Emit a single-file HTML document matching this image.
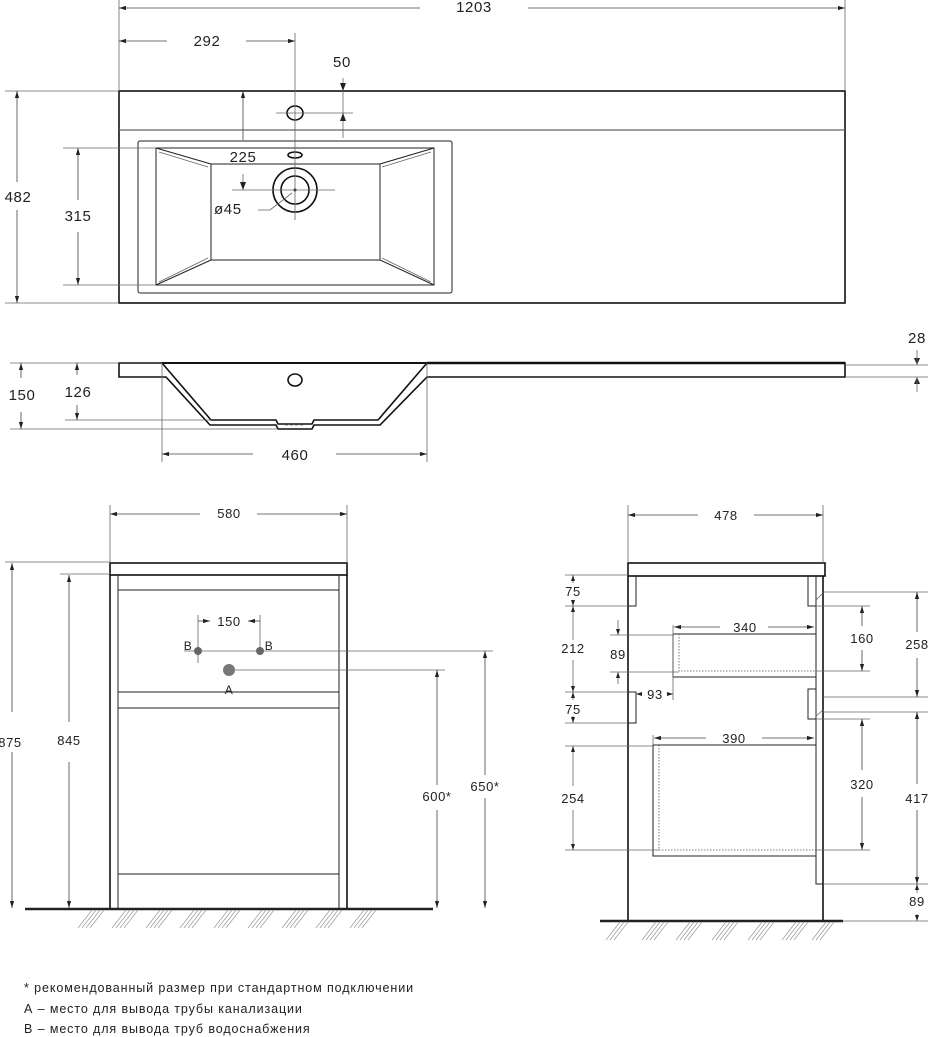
<!DOCTYPE html>
<html><head><meta charset="utf-8"><style>
html,body{margin:0;padding:0;background:#fff}
svg{display:block}
text{font-family:"Liberation Sans","DejaVu Sans",sans-serif;fill:#222;letter-spacing:0.6px}
.o{fill:none;stroke:#111;stroke-width:1.6}
.t{fill:none;stroke:#222;stroke-width:1}
.d{fill:none;stroke:#666;stroke-width:0.8}
.a{fill:none;stroke:#444;stroke-width:0.8;marker-start:url(#ar);marker-end:url(#ar)}
.dt{fill:none;stroke:#555;stroke-width:0.8;stroke-dasharray:1.5 1.5}
.h{stroke:#999;stroke-width:0.7}
.big{font-size:15px}
</style></head><body>
<svg width="928" height="1037" viewBox="0 0 928 1037" xmlns="http://www.w3.org/2000/svg">
<defs>
<marker id="ar" viewBox="0 0 10 10" refX="10" refY="5" markerWidth="7" markerHeight="7" orient="auto-start-reverse" markerUnits="userSpaceOnUse"><path d="M0,2 L10,5 L0,8 z" fill="#222"/></marker>
</defs>

<!-- ===== TOP PLAN ===== -->
<rect class="o" x="119" y="91" width="726" height="212"/>
<line x1="119" y1="130" x2="845" y2="130" stroke="#666" stroke-width="1.2"/>
<rect class="t" x="138" y="141" width="314" height="152" rx="2"/>
<rect class="t" x="156" y="148" width="278" height="137"/>
<rect class="t" x="211" y="164" width="169" height="96"/>
<path class="t" d="M156,148 L211,164 M434,148 L380,164 M156,285 L211,260 M434,285 L380,260"/>
<path class="d" d="M159,152 L208,167 M431,152 L382,167 M159,282 L208,258 M431,282 L382,258"/>
<ellipse cx="295" cy="113" rx="8" ry="7" class="o"/>
<ellipse cx="295" cy="155" rx="7" ry="3" class="o"/>
<circle cx="295" cy="190" r="22" class="o" stroke-width="2"/>
<circle cx="295" cy="190" r="14" class="o"/>
<circle cx="295" cy="190" r="1.5" fill="#111"/>
<line class="d" x1="295" y1="33" x2="295" y2="220"/>
<line class="d" x1="276" y1="113" x2="353" y2="113"/>
<line class="d" x1="232" y1="190" x2="335" y2="190"/>
<path class="d" d="M258,210 L270,210 L292,193"/>
<!-- 1203 -->
<line class="d" x1="119" y1="0" x2="119" y2="91"/>
<line class="d" x1="845" y1="0" x2="845" y2="91"/>
<line class="a" x1="119" y1="8" x2="420" y2="8" style="marker-end:none"/>
<line class="a" x1="528" y1="8" x2="845" y2="8" style="marker-start:none"/>
<text x="474" y="12" class="big" text-anchor="middle">1203</text>
<!-- 292 -->
<line class="a" x1="119" y1="41" x2="167" y2="41" style="marker-end:none"/>
<line class="a" x1="246" y1="41" x2="295" y2="41" style="marker-start:none"/>
<text x="207" y="46" class="big" text-anchor="middle">292</text>
<!-- 50 -->
<text x="342" y="67" class="big" text-anchor="middle">50</text>
<line class="d" x1="343" y1="78" x2="343" y2="138"/>
<path d="M340,83 L343,91 L346,83z M340,121 L343,113 L346,121z" fill="#222"/>
<!-- 225 -->
<line class="a" x1="243" y1="91" x2="243" y2="140" style="marker-end:none"/>
<text x="243" y="162" class="big" text-anchor="middle">225</text>
<line class="d" x1="243" y1="174" x2="243" y2="190"/>
<path d="M240,182 L243,190 L246,182z" fill="#222"/>
<text x="214" y="214" class="big">ø45</text>
<!-- 482 -->
<line class="d" x1="5" y1="91" x2="119" y2="91"/>
<line class="d" x1="5" y1="303" x2="119" y2="303"/>
<line class="a" x1="17" y1="91" x2="17" y2="182" style="marker-end:none"/>
<line class="a" x1="17" y1="210" x2="17" y2="303" style="marker-start:none"/>
<text x="18" y="202" class="big" text-anchor="middle">482</text>
<!-- 315 -->
<line class="d" x1="63" y1="148" x2="156" y2="148"/>
<line class="d" x1="63" y1="285" x2="156" y2="285"/>
<line class="a" x1="78" y1="148" x2="78" y2="200" style="marker-end:none"/>
<line class="a" x1="78" y1="232" x2="78" y2="285" style="marker-start:none"/>
<text x="78" y="221" class="big" text-anchor="middle">315</text>

<!-- ===== SECTION ===== -->
<path class="o" d="M162,363 L119,363 L119,377 L166,377 L210,425 L276,425 L278,429 L312,429 L314,425 L380,425 L427,377 L845,377 L845,363 L427,363"/>
<path class="o" d="M162,363 L211,420 L276,420 L278,424 L312,424 L314,420 L378,420 L427,363"/>
<line x1="162" y1="363" x2="427" y2="363" stroke="#111" stroke-width="2"/>
<line x1="427" y1="363" x2="845" y2="363" stroke="#111" stroke-width="2.5"/>
<line class="d" x1="285" y1="425" x2="305" y2="425" stroke-dasharray="3 2"/>
<ellipse cx="295" cy="380" rx="7" ry="6" class="o"/>
<!-- 150 / 126 -->
<line class="d" x1="10" y1="363" x2="119" y2="363"/>
<line class="d" x1="10" y1="429" x2="278" y2="429"/>
<line class="d" x1="65" y1="420" x2="211" y2="420"/>
<line class="a" x1="21" y1="363" x2="21" y2="378" style="marker-end:none"/>
<line class="a" x1="21" y1="412" x2="21" y2="429" style="marker-start:none"/>
<text x="22" y="400" class="big" text-anchor="middle">150</text>
<line class="a" x1="77" y1="363" x2="77" y2="375" style="marker-end:none"/>
<line class="a" x1="77" y1="405" x2="77" y2="420" style="marker-start:none"/>
<text x="78" y="397" class="big" text-anchor="middle">126</text>
<!-- 460 -->
<line class="d" x1="162" y1="363" x2="162" y2="462"/>
<line class="d" x1="427" y1="363" x2="427" y2="462"/>
<line class="a" x1="162" y1="454" x2="253" y2="454" style="marker-end:none"/>
<line class="a" x1="336" y1="454" x2="427" y2="454" style="marker-start:none"/>
<text x="295" y="460" class="big" text-anchor="middle">460</text>
<!-- 28 -->
<line class="d" x1="845" y1="365" x2="928" y2="365"/>
<line class="d" x1="845" y1="377" x2="928" y2="377"/>
<text x="917" y="343" class="big" text-anchor="middle">28</text>
<path d="M914,358 L917,365 L920,358z M914,384 L917,377 L920,384z" fill="#222"/>
<line class="d" x1="917" y1="350" x2="917" y2="365"/><line class="d" x1="917" y1="377" x2="917" y2="392"/>

<!-- ===== FRONT CABINET ===== -->
<rect class="o" x="110" y="563" width="237" height="12"/>
<path class="o" d="M110,575 L110,909 M347,575 L347,909"/>
<path class="t" d="M118,575 L118,909 M339,575 L339,909"/>
<path class="t" d="M118,590 L339,590 M118,692 L339,692 M118,708 L339,708 M118,874 L339,874"/>
<circle cx="198" cy="651" r="4" fill="#666"/>
<circle cx="260" cy="651" r="4" fill="#666"/>
<circle cx="229" cy="670" r="6" fill="#777"/>
<text x="188" y="650" font-size="12" text-anchor="middle">B</text>
<text x="269" y="650" font-size="12" text-anchor="middle">B</text>
<text x="229" y="694" font-size="12" text-anchor="middle">A</text>
<line class="d" x1="198" y1="615" x2="198" y2="663"/>
<line class="d" x1="260" y1="615" x2="260" y2="655"/>
<line class="d" x1="184" y1="651" x2="493" y2="651"/>
<line class="d" x1="235" y1="670" x2="445" y2="670"/>
<line class="a" x1="198" y1="621" x2="210" y2="621" style="marker-start:none"/>
<line class="a" x1="248" y1="621" x2="260" y2="621" style="marker-end:none"/>
<text x="229" y="626" font-size="13" text-anchor="middle">150</text>
<!-- 580 -->
<line class="d" x1="110" y1="505" x2="110" y2="563"/>
<line class="d" x1="347" y1="505" x2="347" y2="563"/>
<line class="a" x1="110" y1="514" x2="200" y2="514" style="marker-end:none"/>
<line class="a" x1="257" y1="514" x2="347" y2="514" style="marker-start:none"/>
<text x="229" y="518" font-size="13" text-anchor="middle">580</text>
<!-- 875 / 845 -->
<line class="d" x1="5" y1="562" x2="110" y2="562"/>
<line class="d" x1="60" y1="574" x2="110" y2="574"/>
<line class="a" x1="12" y1="563" x2="12" y2="712" style="marker-end:none"/>
<line class="a" x1="12" y1="752" x2="12" y2="908" style="marker-start:none"/>
<text x="10" y="747" font-size="13" text-anchor="middle">875</text>
<line class="a" x1="69" y1="575" x2="69" y2="722" style="marker-end:none"/>
<line class="a" x1="69" y1="762" x2="69" y2="908" style="marker-start:none"/>
<text x="69" y="745" font-size="13" text-anchor="middle">845</text>
<!-- 600 / 650 -->
<line class="a" x1="437" y1="670" x2="437" y2="785" style="marker-end:none"/>
<line class="a" x1="437" y1="810" x2="437" y2="908" style="marker-start:none"/>
<text x="437" y="801" font-size="13" text-anchor="middle">600*</text>
<line class="a" x1="485" y1="651" x2="485" y2="775" style="marker-end:none"/>
<line class="a" x1="485" y1="798" x2="485" y2="908" style="marker-start:none"/>
<text x="485" y="791" font-size="13" text-anchor="middle">650*</text>
<line x1="25" y1="909" x2="433" y2="909" stroke="#222" stroke-width="2.5"/>
<g class="h">
<path d="M78,928 L92,910 M82,928 L96,910 M86,928 L100,910 M90,928 L104,910 M112,928 L126,910 M116,928 L130,910 M120,928 L134,910 M124,928 L138,910 M146,928 L160,910 M150,928 L164,910 M154,928 L168,910 M158,928 L172,910 M180,928 L194,910 M184,928 L198,910 M188,928 L202,910 M192,928 L206,910 M214,928 L228,910 M218,928 L232,910 M222,928 L236,910 M226,928 L240,910 M248,928 L262,910 M252,928 L266,910 M256,928 L270,910 M260,928 L274,910 M282,928 L296,910 M286,928 L300,910 M290,928 L304,910 M294,928 L308,910 M316,928 L330,910 M320,928 L334,910 M324,928 L338,910 M328,928 L342,910 M350,928 L364,910 M354,928 L368,910 M358,928 L372,910 M362,928 L376,910"/>
</g>

<!-- ===== SIDE CABINET ===== -->
<rect class="o" x="628" y="563" width="197" height="13"/>
<path class="o" d="M628,576 L628,921 M823,576 L823,921"/>
<path class="t" d="M628,606 L636,606 L636,576 M628,692 L636,692 L636,723 L628,723"/>
<path class="t" d="M816,576 L816,606 L808,606 L808,576"/>
<path class="t" d="M816,689 L808,689 L808,719 L816,719 M816,576 L816,884 L823,884"/>
<path class="t" d="M673,634 L816,634 M673,634 L673,677 L816,677"/>
<path class="dt" d="M679,634 L679,671 L816,671"/>
<path class="t" d="M653,745 L816,745 M653,745 L653,856 L816,856"/>
<path class="dt" d="M659,745 L659,850 L816,850"/>
<!-- 478 -->
<line class="d" x1="628" y1="505" x2="628" y2="563"/>
<line class="d" x1="823" y1="505" x2="823" y2="563"/>
<line class="a" x1="628" y1="515" x2="698" y2="515" style="marker-end:none"/>
<line class="a" x1="754" y1="515" x2="823" y2="515" style="marker-start:none"/>
<text x="726" y="520" font-size="13" text-anchor="middle">478</text>
<!-- left dims -->
<line class="d" x1="565" y1="575" x2="628" y2="575"/>
<line class="d" x1="565" y1="606" x2="628" y2="606"/>
<line class="d" x1="565" y1="692" x2="628" y2="692"/>
<line class="d" x1="565" y1="723" x2="628" y2="723"/>
<line class="d" x1="565" y1="746" x2="653" y2="746"/>
<line class="d" x1="565" y1="850" x2="659" y2="850"/>
<line class="d" x1="610" y1="635" x2="673" y2="635"/>
<line class="d" x1="610" y1="672" x2="679" y2="672"/>
<path class="d" d="M573,575 L573,583 M573,600 L573,640 M573,660 L573,700 M573,716 L573,723 M573,746 L573,786 M573,810 L573,850"/>
<path d="M571,581 L573,575 L575,581z M571,600 L573,606 L575,600z M571,612 L573,606 L575,612z M571,686 L573,692 L575,686z M571,698 L573,692 L575,698z M571,717 L573,723 L575,717z M571,752 L573,746 L575,752z M571,844 L573,850 L575,844z" fill="#222"/>
<text x="573" y="596" font-size="13" text-anchor="middle">75</text>
<text x="573" y="653" font-size="13" text-anchor="middle">212</text>
<text x="573" y="714" font-size="13" text-anchor="middle">75</text>
<text x="573" y="803" font-size="13" text-anchor="middle">254</text>
<path class="d" d="M618,620 L618,635 M618,672 L618,684"/>
<path d="M616,629 L618,635 L620,629z M616,678 L618,672 L620,678z" fill="#222"/>
<text x="618" y="659" font-size="13" text-anchor="middle">89</text>
<line class="d" x1="673" y1="625" x2="673" y2="700"/>
<line class="d" x1="653" y1="735" x2="653" y2="745"/>
<path class="d" d="M636,694 L642,694 M667,694 L673,694"/>
<path d="M642,692 L636,694 L642,696z M667,692 L673,694 L667,696z" fill="#222"/>
<text x="655" y="699" font-size="13" text-anchor="middle">93</text>
<line class="a" x1="674" y1="627" x2="720" y2="627" style="marker-end:none"/>
<line class="a" x1="768" y1="627" x2="814" y2="627" style="marker-start:none"/>
<text x="745" y="632" font-size="13" text-anchor="middle">340</text>
<line class="a" x1="654" y1="738" x2="706" y2="738" style="marker-end:none"/>
<line class="a" x1="762" y1="738" x2="814" y2="738" style="marker-start:none"/>
<text x="734" y="743" font-size="13" text-anchor="middle">390</text>
<!-- right dims -->
<path class="d" d="M823,592 L928,592 M816,606 L870,606 M816,671 L870,671 M823,697 L928,697 M823,712 L928,712 M816,719 L870,719 M816,850 L870,850 M823,884 L928,884"/>
<path class="d" d="M816,600 L823,593 M816,716 L823,710"/>
<line class="a" x1="862" y1="606" x2="862" y2="626" style="marker-end:none"/>
<line class="a" x1="862" y1="650" x2="862" y2="671" style="marker-start:none"/>
<text x="862" y="643" font-size="13" text-anchor="middle">160</text>
<line class="a" x1="862" y1="719" x2="862" y2="770" style="marker-end:none"/>
<line class="a" x1="862" y1="797" x2="862" y2="850" style="marker-start:none"/>
<text x="862" y="789" font-size="13" text-anchor="middle">320</text>
<line class="a" x1="917" y1="592" x2="917" y2="632" style="marker-end:none"/>
<line class="a" x1="917" y1="658" x2="917" y2="697" style="marker-start:none"/>
<text x="917" y="649" font-size="13" text-anchor="middle">258</text>
<line class="a" x1="917" y1="712" x2="917" y2="784" style="marker-end:none"/>
<line class="a" x1="917" y1="810" x2="917" y2="884" style="marker-start:none"/>
<text x="917" y="803" font-size="13" text-anchor="middle">417</text>
<path class="d" d="M917,884 L917,893 M917,914 L917,921"/>
<path d="M915,890 L917,884 L919,890z M915,915 L917,921 L919,915z" fill="#222"/>
<text x="917" y="906" font-size="13" text-anchor="middle">89</text>
<line class="d" x1="823" y1="921" x2="928" y2="921"/>
<line x1="600" y1="921" x2="843" y2="921" stroke="#222" stroke-width="2.5"/>
<g class="h">
<path d="M606,940 L620,922 M610,940 L624,922 M614,940 L628,922 M642,940 L656,922 M646,940 L660,922 M650,940 L664,922 M654,940 L668,922 M676,940 L690,922 M680,940 L694,922 M684,940 L698,922 M688,940 L702,922 M712,940 L726,922 M716,940 L730,922 M720,940 L734,922 M724,940 L738,922 M748,940 L762,922 M752,940 L766,922 M756,940 L770,922 M760,940 L774,922 M782,940 L796,922 M786,940 L800,922 M790,940 L804,922 M794,940 L808,922 M812,940 L826,922 M816,940 L830,922 M820,940 L834,922"/>
</g>

<!-- notes -->
<text x="24" y="992" font-size="12.5" fill="#333" style="letter-spacing:0.9px">* рекомендованный размер при стандартном подключении</text>
<text x="24" y="1013" font-size="12.5" fill="#333" style="letter-spacing:0.9px">А – место для вывода трубы канализации</text>
<text x="24" y="1033" font-size="12.5" fill="#333" style="letter-spacing:0.9px">В – место для вывода труб водоснабжения</text>
</svg>
</body></html>
